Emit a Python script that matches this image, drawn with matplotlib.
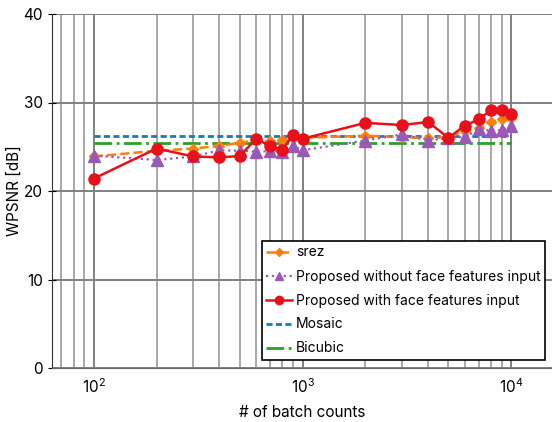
import matplotlib
matplotlib.use("Agg")
import matplotlib.pyplot as plt
import numpy as np
from matplotlib.ticker import LogLocator

plt.rcParams['font.family'] = ['Inter', 'DejaVu Sans']
plt.rcParams['mathtext.default'] = 'regular'

batch = [100, 200, 300, 400, 500, 600, 700, 800, 900, 1000,
         2000, 3000, 4000, 5000, 6000, 7000, 8000, 9000, 10000]
srez = [23.9, 24.55, 24.8, 25.1, 25.45, 25.75, 25.6, 25.8, 25.95, 26.0,
        26.25, 26.1, 25.95, 26.1, 26.8, 27.1, 27.8, 28.1, 28.3]
prop_wo = [24.0, 23.5, 23.9, 24.6, 24.55, 24.45, 24.5, 24.45, 25.1, 24.6,
           25.7, 26.4, 25.7, 26.0, 26.1, 27.0, 26.8, 26.9, 27.4]
prop_w = [21.4, 24.8, 23.9, 23.8, 23.95, 25.9, 25.1, 24.6, 26.35, 25.9,
          27.7, 27.45, 27.8, 26.0, 27.4, 28.1, 29.15, 29.15, 28.7]
mosaic = [26.25] * len(batch)
bicubic = [25.45] * len(batch)

fig = plt.figure(figsize=(5.52, 4.22), dpi=100)
ax = fig.add_axes([52/552, 54/422, 501/552, 354/422])

ax.plot(batch, srez, color='#ff7f0e', linestyle='--', marker='D', markersize=5.5,
        linewidth=1.8, label='srez', zorder=3)
ax.plot(batch, prop_wo, color='#9b59b6', linestyle=':', marker='^', markersize=8,
        linewidth=1.6, label='Proposed without face features input', zorder=4)
ax.plot(batch, prop_w, color='#e8101a', linestyle='-', marker='o', markersize=8,
        linewidth=1.8, label='Proposed with face features input', zorder=5)
ax.plot(batch, mosaic, color='#1f77b4', linestyle=(0, (2.2, 1.2)), linewidth=2,
        label='Mosaic', zorder=2)
ax.plot(batch, bicubic, color='#2ca02c', linestyle='-.', linewidth=2,
        label='Bicubic', zorder=2)

ax.set_xscale('log')
ax.set_xlim(10**1.8, 10**4.2)
ax.set_ylim(0, 40)
ax.set_yticks([0, 10, 20, 30, 40])
ax.xaxis.set_minor_locator(LogLocator(base=10, subs=np.arange(2, 10)))

ax.grid(True, which='major', axis='both', color='#808080', linewidth=1.4)
ax.grid(True, which='minor', axis='x', color='#a8a8a8', linewidth=1.4)
ax.set_axisbelow(True)

for s in ['top', 'right']:
    ax.spines[s].set_visible(False)
ax.spines['left'].set_color('#333333')
ax.spines['bottom'].set_color('#666666')
ax.tick_params(axis='y', direction='inout', length=6, labelsize=11)
ax.tick_params(axis='x', which='both', direction='in', length=0, labelsize=11, pad=7)

ax.set_xlabel('# of batch counts', fontsize=11, labelpad=6)
ax.set_ylabel('WPSNR [dB]', fontsize=11, labelpad=1)

leg = ax.legend(loc='lower right', fontsize=10, fancybox=False, framealpha=1,
                edgecolor='black', handlelength=1.85, handletextpad=0.3,
                labelspacing=0.72, borderpad=0.3, borderaxespad=0.6,
                markerscale=0.75)
leg.get_frame().set_linewidth(1.2)

fig.savefig('out.png', dpi=100)
